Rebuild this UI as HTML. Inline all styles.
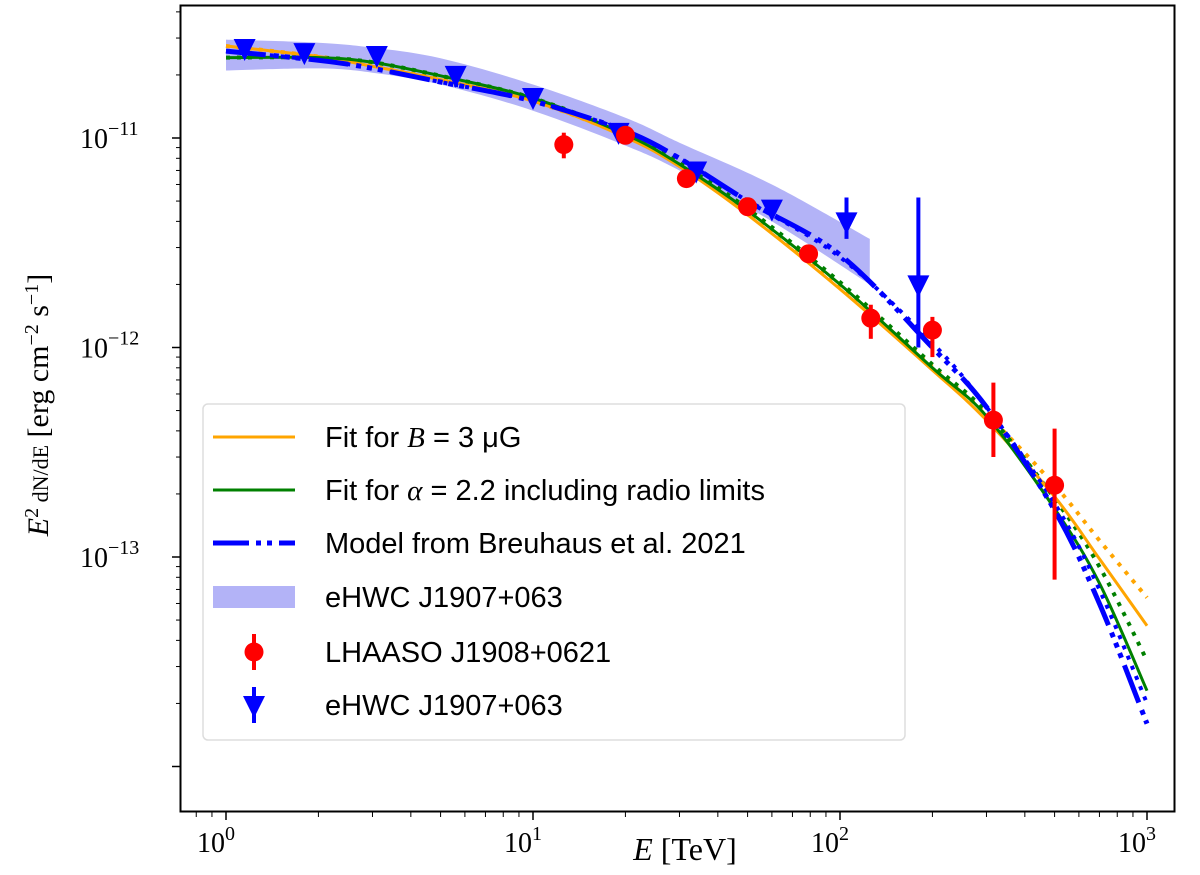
<!DOCTYPE html>
<html><head><meta charset="utf-8"><style>
body{margin:0;background:#fff;}
svg text{font-family:"Liberation Serif",serif;}
.lg{font-family:"Liberation Sans",sans-serif;font-size:29px;}
</style></head><body>
<svg id="chart" width="1200" height="870" xmlns="http://www.w3.org/2000/svg">
<g id="plot"></g>
</svg>
<script>
const energies = [1,2,3,5,10,20,30,50,100,200,300,500,700,1000];
const orangeSolid = [2.75,2.45,2.2,1.9,1.5,1.01,0.73,0.43,0.19,0.078,0.045,0.0194,0.0098,0.0047];
const orangeDotted = [2.75,2.45,2.2,1.9,1.5,1.02,0.74,0.44,0.195,0.081,0.048,0.022,0.012,0.0064];
const greenSolid = [2.42,2.42,2.3,1.98,1.55,1.04,0.75,0.45,0.2,0.08,0.047,0.017,0.0075,0.0023];
const greenDotted = [2.42,2.42,2.3,1.98,1.55,1.05,0.76,0.46,0.205,0.083,0.049,0.019,0.009,0.0032];
const modelFlux = [2.6,2.35,2.15,1.85,1.5,1.08,0.8,0.5,0.277,0.1,0.052,0.0167,0.006,0.0016];
const modelDotted = [2.6,2.35,2.15,1.85,1.5,1.08,0.8,0.5,0.27,0.105,0.052,0.018,0.007,0.002];
const bandE = [1,2,3,5,10,20,30,60,125];
const bandHi = [2.95,2.85,2.7,2.4,1.8,1.25,0.95,0.6,0.33];
const bandLo = [2.1,2.15,2.05,1.8,1.35,0.92,0.7,0.4,0.2];
const hawcE = [1.15,1.8,3.1,5.6,10,19,34,60];
const hawcF = [2.69,2.57,2.49,2.0,1.57,1.07,0.70,0.46];
const hawcUlE = [105,180];
const hawcUlTop = [0.52,0.52];
const hawcUlF = [0.4,0.2];
const hawcUlBot = [0.33,0.1];
const lhE = [12.6,20,31.6,50,79,126,200,316,500];
const lhF = [0.93,1.03,0.64,0.47,0.28,0.138,0.121,0.045,0.022];
const lhLo = [0.8,1.03,0.64,0.47,0.28,0.11,0.09,0.03,0.0078];
const lhHi = [1.06,1.03,0.64,0.47,0.28,0.16,0.14,0.068,0.041];
const xExp = ["0","1","2","3"];
const yTickExp = [-11,-12,-13];

const X = e => 226 + 307*Math.log10(e);
const Y = f => 138 - 209.5*Math.log10(f);
const NS = "http://www.w3.org/2000/svg";
const g = document.getElementById('plot');
function mk(tag, attrs, name, parent){
  const el = document.createElementNS(NS, tag);
  for (const k in attrs) el.setAttribute(k, attrs[k]);
  
  
  (parent||g).appendChild(el); return el;
}
function pts(xs, ys){ return xs.map((e,i)=>[X(e),Y(ys[i])]); }
function smooth(p, move){
  let d = (move?'M':'L')+p[0][0].toFixed(1)+','+p[0][1].toFixed(1);
  for(let i=0;i<p.length-1;i++){
    const p0=p[Math.max(0,i-1)],p1=p[i],p2=p[i+1],p3=p[Math.min(p.length-1,i+2)];
    const c1=[p1[0]+(p2[0]-p0[0])/6,p1[1]+(p2[1]-p0[1])/6];
    const c2=[p2[0]-(p3[0]-p1[0])/6,p2[1]-(p3[1]-p1[1])/6];
    d+=`C${c1[0].toFixed(1)},${c1[1].toFixed(1)} ${c2[0].toFixed(1)},${c2[1].toFixed(1)} ${p2[0].toFixed(1)},${p2[1].toFixed(1)}`;
  }
  return d;
}
function path(xs, ys){ return smooth(pts(xs,ys), true); }
const defs = mk('defs',{},'defs');
const cp = mk('clipPath',{id:'clip'},'clip',defs);
mk('rect',{x:181,y:6,width:993,height:805},'clip-rect',cp);
const pg = mk('g',{'clip-path':'url(#clip)'},'plot-area');
const bd = path(bandE,bandHi)+'L'+X(bandE[bandE.length-1])+','+Y(bandLo[bandLo.length-1])+smooth(pts(bandE,bandLo).reverse(),false)+'Z';
mk('path',{d:bd,fill:'#b3b3f7',stroke:'none'},'ehwc-band',pg);
mk('path',{d:path(energies,orangeDotted),fill:'none',stroke:'orange','stroke-width':4,'stroke-dasharray':'4,7'},'orange-dotted-line',pg);
mk('path',{d:path(energies,greenDotted),fill:'none',stroke:'green','stroke-width':4,'stroke-dasharray':'4,7'},'green-dotted-line',pg);
mk('path',{d:path(energies,orangeSolid),fill:'none',stroke:'orange','stroke-width':3},'orange-fit-line',pg);
mk('path',{d:path(energies,greenSolid),fill:'none',stroke:'green','stroke-width':3},'green-fit-line',pg);
mk('path',{d:path(energies,modelDotted),fill:'none',stroke:'blue','stroke-width':4,'stroke-dasharray':'4,7'},'model-dotted-line',pg);
mk('path',{d:path(energies,modelFlux),fill:'none',stroke:'blue','stroke-width':5,'stroke-dasharray':'40,8,5,6,5,6,5,8'},'model-line',pg);
function tri(x,y,name){ mk('path',{d:`M${x-11},${y-9}L${x+11},${y-9}L${x},${y+13}Z`,fill:'blue'},name,pg); }
hawcE.forEach((e,i)=>tri(X(e),Y(hawcF[i]),'ehwc-point'));
hawcUlE.forEach((e,i)=>{
  mk('line',{x1:X(e),x2:X(e),y1:Y(hawcUlTop[i]),y2:Y(hawcUlBot[i]),stroke:'blue','stroke-width':4},'ehwc-errorbar',pg);
  tri(X(e),Y(hawcUlF[i]),'ehwc-limit-point');
});
lhE.forEach((e,i)=>{
  mk('line',{x1:X(e),x2:X(e),y1:Y(lhHi[i]),y2:Y(lhLo[i]),stroke:'red','stroke-width':4},'lhaaso-errorbar',pg);
  mk('circle',{cx:X(e),cy:Y(lhF[i]),r:9.5,fill:'red'},'lhaaso-point',pg);
});
mk('rect',{x:180.5,y:5.5,width:994,height:806,fill:'none',stroke:'#000','stroke-width':2},'plot-frame');
for(let d=0;d<=3;d++){
  const x=X(Math.pow(10,d));
  mk('line',{x1:x,x2:x,y1:812,y2:820,stroke:'#000','stroke-width':1.5},'x-major-tick');
  const t=mk('text',{x:x-10,y:852,'font-size':28,'text-anchor':'middle'},'x-tick-label');
  t.textContent='10';
  const s=mk('tspan',{dy:-12,'font-size':20},'x-tick-exp',t); s.textContent=xExp[d];
  for(let m=2;m<10&&d<3;m++){const xm=X(m*Math.pow(10,d));mk('line',{x1:xm,x2:xm,y1:812,y2:817,stroke:'#000','stroke-width':1},'x-minor-tick');}
}
for(let m=8;m<10;m++){const xm=X(m/10);mk('line',{x1:xm,x2:xm,y1:812,y2:817,stroke:'#000','stroke-width':1},'x-minor-tick');}
for(let p=-14;p<=-10;p++){
  for(let m=1;m<10;m++){
    const y=Y(m*Math.pow(10,p+11));
    if(y<6||y>811) continue;
    mk('line',{x1:m==1?172:176,x2:180,y1:y,y2:y,stroke:'#000','stroke-width':m==1?1.5:1},m==1?'y-major-tick':'y-minor-tick');
  }
}
yTickExp.forEach(p=>{
  const y=Y(Math.pow(10,p+11));
  const t=mk('text',{x:80,y:y+10,'font-size':28},'y-tick-label');
  t.textContent='10';
  const s=mk('tspan',{dy:-13,'font-size':20},'y-tick-exp',t); s.textContent='−'+(-p);
});
const xl=mk('text',{x:685,y:860,'font-size':32,'text-anchor':'middle'},'x-axis-title');
xl.innerHTML='<tspan font-style="italic">E</tspan> [TeV]';
const yl=mk('text',{x:0,y:0,'font-size':30,'text-anchor':'middle',transform:'translate(48,405) rotate(-90)'},'y-axis-title');
yl.innerHTML='<tspan font-style="italic">E</tspan><tspan dy="-10" font-size="20">2</tspan><tspan dy="10" font-size="22"> dN/dE</tspan>  [erg cm<tspan dy="-10" font-size="20">−2</tspan><tspan dy="10"> s</tspan><tspan dy="-10" font-size="20">−1</tspan><tspan dy="10">]</tspan>';
const lg=mk('g',{},'legend');
mk('rect',{x:203,y:404,width:702,height:336,rx:5,fill:'rgba(255,255,255,0.85)',stroke:'#ddd','stroke-width':1.5},'legend-box',lg);
const rows=[437,490,543,597,652,705];
mk('line',{x1:213,x2:295,y1:rows[0],y2:rows[0],stroke:'orange','stroke-width':3},'legend-orange-handle',lg);
mk('line',{x1:213,x2:295,y1:rows[1],y2:rows[1],stroke:'green','stroke-width':3},'legend-green-handle',lg);
mk('line',{x1:213,x2:295,y1:rows[2],y2:rows[2],stroke:'blue','stroke-width':5,'stroke-dasharray':'36,7,5,6,5,7'},'legend-model-handle',lg);
mk('rect',{x:213,y:rows[3]-11,width:82,height:22,fill:'#b3b3f7'},'legend-band-handle',lg);
mk('line',{x1:254,x2:254,y1:rows[4]-18,y2:rows[4]+18,stroke:'red','stroke-width':4},'legend-lhaaso-bar',lg);
mk('circle',{cx:254,cy:rows[4],r:9.5,fill:'red'},'legend-lhaaso-marker',lg);
mk('line',{x1:254,x2:254,y1:rows[5]-18,y2:rows[5]+18,stroke:'blue','stroke-width':4},'legend-ehwc-bar',lg);
mk('path',{d:`M243,${rows[5]-9}L265,${rows[5]-9}L254,${rows[5]+13}Z`,fill:'blue'},'legend-ehwc-marker',lg);
const labels=['Fit for <tspan font-style="italic" font-family="Liberation Serif">B</tspan> = 3 μG','Fit for <tspan font-style="italic" font-family="Liberation Serif">α</tspan> = 2.2 including radio limits','Model from Breuhaus et al. 2021','eHWC J1907+063','LHAASO J1908+0621','eHWC J1907+063'];
labels.forEach((l,i)=>{const t=mk('text',{x:325,y:rows[i]+10,class:'lg'},'legend-label',lg);t.innerHTML=l;});
</script>
</body></html>
